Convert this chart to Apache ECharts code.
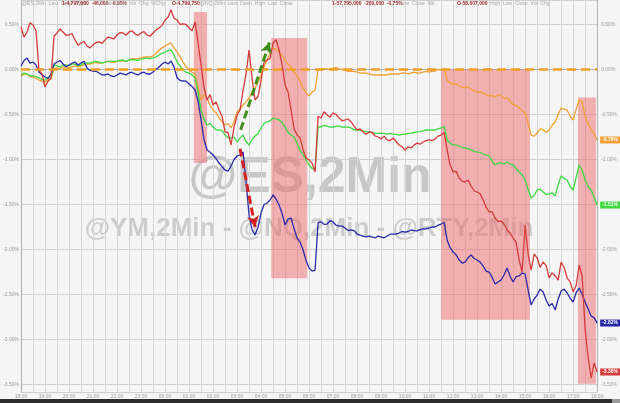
<!DOCTYPE html>
<html><head><meta charset="utf-8">
<script src="https://cdn.jsdelivr.net/npm/echarts@6/dist/echarts.min.js"></script>
<style>html,body{margin:0;padding:0;background:#f5f5f5}#c{width:620px;height:403px}</style>
</head><body><div id="c"></div>
<script>
// hourly tick labels; each hour holds 8 samples
const hourLabels = ['18:00','19:00','20:00','21:00','22:00','23:00','00:00','01:00','02:00','03:00','04:00','05:00','06:00','07:00','08:00','09:00','10:00','11:00','12:00','13:00','14:00','15:00','16:00','17:00','18:00'];
const subMinutes = ['00','07','15','22','30','37','45','52'];

const esValues = [-0.072,-0.05,-0.050,-0.08,-0.083,-0.10,-0.117,-0.13,-0.139,-0.11,-0.106,0.01,0.017,0.01,0.028,0.03,0.017,0.03,0.039,0.03,0.039,0.05,0.061,0.06,0.072,0.08,0.072,0.07,0.083,0.09,0.083,0.08,0.094,0.10,0.094,0.09,0.106,0.12,0.117,0.12,0.128,0.14,0.139,0.14,0.150,0.18,0.217,0.24,0.261,0.28,0.294,0.24,0.194,0.14,0.083,0.03,-0.006,-0.03,-0.050,-0.20,-0.339,-0.28,-0.317,-0.40,-0.450,-0.48,-0.539,-0.58,-0.617,-0.60,-0.650,-0.58,-0.472,-0.44,-0.394,-0.36,-0.317,-0.25,-0.206,-0.14,-0.061,0.03,0.106,0.18,0.239,0.22,0.194,0.16,0.106,0.06,0.028,-0.03,-0.072,-0.13,-0.206,-0.26,-0.294,-0.25,-0.228,0.00,-0.006,0.01,0.006,0.00,0.017,0.02,0.006,0.00,-0.006,-0.02,-0.017,-0.02,-0.028,-0.04,-0.039,-0.04,-0.050,-0.06,-0.061,-0.06,-0.061,-0.06,-0.061,-0.05,-0.050,-0.05,-0.050,-0.04,-0.039,-0.05,-0.039,-0.03,-0.039,-0.04,-0.028,-0.02,-0.028,-0.02,-0.017,0.00,-0.006,0.01,-0.117,-0.15,-0.161,-0.16,-0.183,-0.20,-0.194,-0.20,-0.217,-0.24,-0.250,-0.25,-0.261,-0.28,-0.294,-0.29,-0.306,-0.28,-0.294,-0.32,-0.317,-0.35,-0.394,-0.40,-0.428,-0.46,-0.483,-0.60,-0.728,-0.74,-0.706,-0.66,-0.672,-0.70,-0.672,-0.62,-0.583,-0.50,-0.428,-0.44,-0.450,-0.52,-0.561,-0.44,-0.339,-0.36,-0.528,-0.60,-0.672,-0.72,-0.783];

const ymValues = [-0.061,-0.04,-0.050,-0.07,-0.072,-0.08,-0.094,-0.11,-0.117,-0.09,-0.083,0.05,0.039,0.03,0.050,0.05,0.039,0.06,0.061,0.04,0.050,0.07,0.072,0.07,0.083,0.09,0.083,0.07,0.083,0.09,0.094,0.09,0.094,0.10,0.106,0.09,0.106,0.11,0.106,0.10,0.117,0.12,0.128,0.12,0.128,0.14,0.161,0.18,0.194,0.21,0.217,0.16,0.083,0.04,-0.006,-0.03,-0.039,-0.06,-0.094,-0.25,-0.450,-0.55,-0.617,-0.60,-0.639,-0.67,-0.672,-0.68,-0.728,-0.76,-0.761,-0.75,-0.806,-0.76,-0.728,-0.80,-0.839,-0.78,-0.739,-0.71,-0.650,-0.60,-0.583,-0.57,-0.539,-0.55,-0.561,-0.59,-0.639,-0.70,-0.728,-0.75,-0.817,-0.90,-0.950,-1.00,-1.061,-1.10,-1.117,-0.64,-0.639,-0.62,-0.628,-0.64,-0.639,-0.63,-0.628,-0.64,-0.639,-0.64,-0.650,-0.67,-0.672,-0.67,-0.683,-0.69,-0.694,-0.70,-0.706,-0.71,-0.706,-0.71,-0.717,-0.71,-0.717,-0.72,-0.728,-0.72,-0.717,-0.71,-0.706,-0.70,-0.694,-0.69,-0.683,-0.67,-0.672,-0.67,-0.672,-0.66,-0.650,-0.63,-0.783,-0.82,-0.839,-0.84,-0.850,-0.87,-0.872,-0.88,-0.894,-0.91,-0.917,-0.92,-0.939,-0.95,-0.961,-1.02,-1.061,-1.04,-1.039,-1.05,-1.028,-1.05,-1.061,-1.10,-1.139,-1.17,-1.228,-1.33,-1.428,-1.40,-1.339,-1.33,-1.361,-1.39,-1.383,-1.37,-1.406,-1.28,-1.183,-1.21,-1.228,-1.30,-1.339,-1.20,-1.061,-1.12,-1.228,-1.30,-1.339,-1.42,-1.506];

const nqValues = [0.039,0.10,0.128,0.07,0.083,0.05,-0.028,-0.06,-0.083,-0.10,-0.050,0.06,0.083,0.10,0.061,0.03,0.050,0.07,0.083,0.05,0.072,0.09,0.017,-0.01,-0.017,-0.02,-0.039,-0.06,-0.061,-0.05,-0.072,-0.08,-0.061,-0.04,-0.050,-0.06,-0.039,-0.03,-0.050,-0.06,-0.039,-0.03,-0.050,-0.05,-0.028,0.00,0.028,0.06,0.083,0.06,0.094,0.03,-0.094,-0.12,-0.128,-0.13,-0.161,-0.19,-0.228,-0.35,-0.561,-0.78,-0.894,-0.92,-0.950,-0.99,-1.039,-1.08,-1.117,-1.13,-1.072,-1.00,-0.961,-0.95,-0.917,-1.25,-1.617,-1.78,-1.839,-1.75,-1.594,-1.50,-1.483,-1.45,-1.394,-1.44,-1.506,-1.60,-1.728,-1.66,-1.650,-1.77,-1.872,-1.92,-2.006,-2.12,-2.206,-2.24,-2.228,-1.70,-1.694,-1.72,-1.717,-1.68,-1.694,-1.73,-1.739,-1.74,-1.761,-1.79,-1.783,-1.79,-1.828,-1.84,-1.850,-1.86,-1.850,-1.86,-1.872,-1.85,-1.861,-1.87,-1.850,-1.83,-1.828,-1.83,-1.817,-1.80,-1.806,-1.80,-1.783,-1.79,-1.794,-1.78,-1.772,-1.77,-1.761,-1.75,-1.750,-1.73,-1.717,-1.70,-1.894,-1.98,-2.028,-2.06,-2.117,-2.15,-2.139,-2.09,-2.061,-2.10,-2.117,-2.14,-2.183,-2.24,-2.250,-2.31,-2.383,-2.36,-2.339,-2.28,-2.206,-2.30,-2.361,-2.30,-2.294,-2.26,-2.272,-2.45,-2.617,-2.55,-2.506,-2.44,-2.472,-2.56,-2.628,-2.60,-2.672,-2.55,-2.461,-2.44,-2.483,-2.54,-2.583,-2.48,-2.428,-2.50,-2.583,-2.66,-2.739,-2.76,-2.817];

const rtyValues = [0.472,0.36,0.417,0.52,0.494,0.43,-0.006,-0.05,-0.194,-0.13,-0.094,0.37,0.406,0.45,0.417,0.38,0.383,0.40,0.328,0.27,0.294,0.31,0.261,0.24,0.272,0.30,0.306,0.29,0.328,0.36,0.350,0.34,0.383,0.41,0.406,0.38,0.417,0.43,0.394,0.38,0.406,0.42,0.383,0.37,0.406,0.44,0.461,0.49,0.550,0.58,0.661,0.57,0.550,0.50,0.506,0.50,0.461,0.43,0.528,0.30,0.050,-0.20,-0.339,-0.28,-0.394,-0.36,-0.450,-0.52,-0.694,-0.70,-0.839,-0.64,-0.506,-0.45,-0.228,-0.05,0.217,-0.10,-0.339,-0.30,-0.117,0.08,0.106,0.12,0.294,0.33,0.217,0.05,-0.172,-0.25,-0.450,-0.66,-0.728,-0.76,-0.894,-0.98,-1.006,-1.04,-1.139,-0.52,-0.539,-0.47,-0.506,-0.53,-0.483,-0.50,-0.539,-0.57,-0.561,-0.55,-0.583,-0.63,-0.672,-0.66,-0.694,-0.72,-0.694,-0.70,-0.739,-0.75,-0.772,-0.74,-0.783,-0.79,-0.761,-0.80,-0.839,-0.86,-0.894,-0.86,-0.872,-0.84,-0.817,-0.83,-0.806,-0.79,-0.783,-0.79,-0.772,-0.74,-0.728,-0.70,-0.894,-1.06,-1.139,-1.13,-1.206,-1.24,-1.250,-1.23,-1.294,-1.35,-1.361,-1.38,-1.450,-1.53,-1.583,-1.58,-1.650,-1.69,-1.683,-1.72,-1.783,-1.82,-1.872,-1.92,-2.117,-2.25,-1.728,-2.05,-2.228,-2.05,-2.094,-2.20,-2.139,-2.18,-2.317,-2.26,-2.294,-2.34,-2.139,-2.20,-2.317,-2.36,-2.472,-2.40,-2.172,-2.30,-2.894,-3.20,-3.428,-3.26,-3.361];

// shaded boxes: [xStartIndex, yTop%, xEndIndex, yBottom%]
const shadedBoxes = [[57.6,0.64,62.0,-1.04],[83.4,0.35,95.4,-2.32],[140.0,0.0,169.6,-2.78],[185.6,-0.31,191.6,-3.49]];
// arrows: [xFromIndex, yFrom%, xToIndex, yTo%]
const greenArrow = [73.2,-0.67,82.8,0.30];
const redArrow = [73.0,-0.88,78.0,-1.75];
const yMin = -3.583, yMax = 0.772;

const categories = [];
hourLabels.forEach((h, k) => {
  const hh = h.slice(0,2);
  if (k === hourLabels.length - 1) { categories.push(h); return; }
  subMinutes.forEach(m => categories.push(hh + ':' + m));
});

const chart = echarts.init(document.getElementById('c'));
const fmtY = v => (Math.abs(v*2 - Math.round(v*2)) < 1e-6) ? v.toFixed(2) + '%' : '';
const lineSeries = (name, data, color) => ({
  name, type:'line', data, showSymbol:false, symbol:'none', z:2,
  lineStyle:{color, width:1.3}, itemStyle:{color},
  endLabel:{show:true, formatter:p => p.value.toFixed(2)+'%', backgroundColor:color, color:'#fff',
    fontSize:5, fontWeight:'bold', padding:[1,2], distance:3, fontFamily:'Liberation Sans'}
});
const hdr = [
  {x:22, t:'@ES,2Min  Last  Open  High', c:'#aaa', w:'normal'},
  {x:62, t:'1-4,797,000  -46,000  -0.95%', c:'#a03030', w:'bold'},
  {x:102, t:'Low  Close  Vol  Chg  %Chg', c:'#aaa', w:'normal'},
  {x:172, t:'O-4,799,750', c:'#a03030', w:'bold'},
  {x:200, t:'@NQ,2Min  Last  Open  High  Low  Close', c:'#aaa', w:'normal'},
  {x:332, t:'1-57,795,000  -200,000  -0.75%', c:'#a03030', w:'bold'},
  {x:400, t:'Low  Close  Vol', c:'#aaa', w:'normal'},
  {x:457, t:'O-58,007,000', c:'#a03030', w:'bold'},
  {x:490, t:'High  Low  Close  Vol  Chg', c:'#aaa', w:'normal'}
];
chart.setOption({
  animation:false,
  backgroundColor:'#f5f5f5',
  grid:{left:21, right:20, top:0, bottom:11},
  xAxis:[{
    type:'category', data:categories, boundaryGap:false,
    axisLine:{lineStyle:{color:'#b0b0b0'}},
    axisTick:{show:true, interval:7, length:2, lineStyle:{color:'#b0b0b0'}},
    axisLabel:{interval:7, fontSize:5, color:'#999', margin:2, fontFamily:'Liberation Sans'},
    splitLine:{show:true, interval:3, lineStyle:{color:'#d6d6d6', width:1}}
  },{
    type:'value', min:0, max:categories.length-1, show:false
  }],
  yAxis:[{
    type:'value', min:yMin, max:yMax, splitNumber:8, position:'left',
    axisLine:{show:true, lineStyle:{color:'#b0b0b0'}}, axisTick:{show:false},
    axisLabel:{formatter:fmtY, fontSize:5, color:'#999', margin:2, showMinLabel:false, showMaxLabel:false, fontFamily:'Liberation Sans'},
    splitLine:{show:true, lineStyle:{color:'#cfcfcf', width:1}}
  },{
    type:'value', min:yMin, max:yMax, splitNumber:8, position:'right',
    axisLine:{show:true, lineStyle:{color:'#b0b0b0'}}, axisTick:{show:false},
    axisLabel:{formatter:fmtY, fontSize:5, color:'#999', margin:4, showMinLabel:false, showMaxLabel:false, fontFamily:'Liberation Sans'},
    splitLine:{show:false}
  }],
  graphic:[
    {type:'text', z:0, style:{text:'@ES,2Min', x:310, y:203, textAlign:'center', textVerticalAlign:'bottom',
      font:'bold 50px "Liberation Sans"', fill:'rgba(0,0,0,0.19)'}},
    {type:'text', z:0, style:{text:'@YM,2Min - @NQ,2Min - @RTY,2Min', x:309, y:242, textAlign:'center', textVerticalAlign:'bottom',
      font:'bold 26px "Liberation Sans"', fill:'rgba(0,0,0,0.17)'}},
    {type:'rect', z:10, shape:{x:0, y:399, width:612, height:4}, style:{fill:'#2e2e2e'}},
    {type:'rect', z:10, shape:{x:612, y:399, width:8, height:4}, style:{fill:'#9a9a9a'}}
  ].concat(hdr.map(h => ({type:'text', z:10, style:{text:h.t, x:h.x, y:1, font:h.w+' 5px "Liberation Sans"', fill:h.c}}))),
  series:[
    lineSeries('ES', esValues, '#f0a035'),
    lineSeries('YM', ymValues, '#3fd83f'),
    lineSeries('NQ', nqValues, '#2a2aa8'),
    lineSeries('RTY', rtyValues, '#d63a3a'),
    {
      name:'notes', type:'line', xAxisIndex:1, yAxisIndex:0, data:[], z:5,
      markArea:{silent:true, itemStyle:{color:'rgba(238,105,105,0.5)'},
        data: shadedBoxes.map(b => [{coord:[b[0], b[1]]},{coord:[b[2], b[3]]}])},
      markLine:{silent:true, symbol:['none','none'], label:{show:false},
        data:[
          {yAxis:0, lineStyle:{color:'#f0a020', width:2.5, type:[9,5]}},
          [{coord:[greenArrow[0],greenArrow[1]], symbol:'none', lineStyle:{color:'#3f8f1a', width:3, type:[8,4]}},
           {coord:[greenArrow[2],greenArrow[3]], symbol:'arrow', symbolSize:[9,11]}],
          [{coord:[redArrow[0],redArrow[1]], symbol:'none', lineStyle:{color:'#d42020', width:3, type:[8,4]}},
           {coord:[redArrow[2],redArrow[3]], symbol:'arrow', symbolSize:[9,11]}]
        ]}
    }
  ]
});
</script></body></html>
